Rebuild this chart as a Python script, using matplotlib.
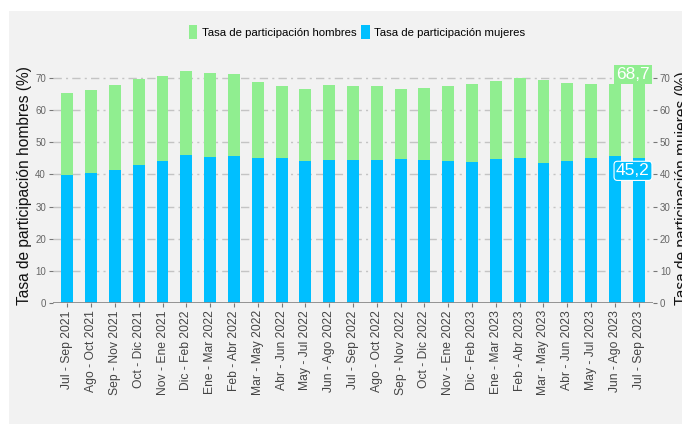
import matplotlib
matplotlib.use("Agg")
import matplotlib.pyplot as plt
from matplotlib.patches import Rectangle, Patch
from matplotlib import font_manager

periods = ["Jul - Sep 2021", "Ago - Oct 2021", "Sep - Nov 2021", "Oct - Dic 2021",
           "Nov - Ene 2021", "Dic - Feb 2022", "Ene - Mar 2022", "Feb - Abr 2022",
           "Mar - May 2022", "Abr - Jun 2022", "May - Jul 2022", "Jun - Ago 2022",
           "Jul - Sep 2022", "Ago - Oct 2022", "Sep - Nov 2022", "Oct - Dic 2022",
           "Nov - Ene 2022", "Dic - Feb 2023", "Ene - Mar 2023", "Feb - Abr 2023",
           "Mar - May 2023", "Abr - Jun 2023", "May - Jul 2023", "Jun - Ago 2023",
           "Jul - Sep 2023"]
men = [65.2, 66.2, 67.7, 69.6, 70.4, 72.0, 71.5, 71.2, 68.7, 67.3, 66.5, 67.7,
       67.5, 67.3, 66.5, 66.9, 67.4, 67.9, 68.9, 69.8, 69.3, 68.4, 68.0, 68.1, 68.7]
women = [39.8, 40.4, 41.4, 42.8, 44.3, 46.0, 45.5, 45.7, 45.2, 45.0, 44.3, 44.4,
         44.5, 44.4, 44.8, 44.5, 44.2, 43.8, 44.8, 45.2, 43.5, 44.3, 45.2, 45.7, 45.2]
men_name = "Tasa de participación hombres"
women_name = "Tasa de participación mujeres"
yticks = [0, 10, 20, 30, 40, 50, 60, 70]

GREEN = "#90EE90"
BLUE = "#00BFFF"

available = {f.name for f in font_manager.fontManager.ttflist}
base_font = "Liberation Sans" if "Liberation Sans" in available else "DejaVu Sans"
narrow_font = "Liberation Sans Narrow" if "Liberation Sans Narrow" in available else base_font
plt.rcParams["font.family"] = [base_font, "DejaVu Sans"]

W, H = 682, 424
fig = plt.figure(figsize=(W / 100, H / 100), dpi=100, facecolor="white")
fig.patches.append(Rectangle((9 / W, 0), 1 - 9 / W, 1 - 11 / H, transform=fig.transFigure,
                             facecolor="#f2f2f2", edgecolor="none", zorder=-10))

left, right = 53 / W, 653 / W
bottom = 1 - 303.3 / H
top = 1 - 61.6 / H
ax = fig.add_axes([left, bottom, right - left, top - bottom])
ax.set_facecolor("none")
x = list(range(len(periods)))
ax.bar(x, men, width=0.5, color=GREEN, zorder=2, label=men_name)
ax.bar(x, women, width=0.5, color=BLUE, zorder=3, label=women_name)
ax.set_xlim(-0.6, len(periods) - 1 + 0.6)
ax.set_ylim(0, 75)
ax.set_yticks(yticks)
for y in yticks[1:]:
    ax.axhline(y, color="#c4c4c4", lw=1.0, ls=(0, (6, 3, 1.5, 3)), zorder=1)
ax.axhline(0, color="#8a8a8a", lw=2.0, zorder=4)
for s in ax.spines.values():
    s.set_visible(False)
ax.set_xticks(x)
ax.set_xticklabels(periods, rotation=90, fontsize=8.7, color="#444444")
ax.tick_params(axis="x", length=3, width=0.8, color="#777777", pad=2)
ax.tick_params(axis="y", labelsize=7, labelcolor="#666666", length=3, width=0.8,
               color="#777777", pad=2)

ax2 = ax.twinx()
ax2.set_ylim(ax.get_ylim())
ax2.set_yticks(yticks)
ax2.tick_params(axis="y", labelsize=7, labelcolor="#666666", length=3, width=0.8,
                color="#777777", pad=2)
for s in ax2.spines.values():
    s.set_visible(False)

fig.text(25 / W, 1 - 186 / H, "Tasa de participación hombres (%)", rotation=90,
         ha="center", va="center", fontsize=11.2, color="#111111")
fig.text(682 / W, 1 - 188 / H, "Tasa de participación mujeres (%)", rotation=90,
         ha="center", va="center", fontsize=11.2, color="#111111")

def fmt(v):
    return f"{v:.1f}".replace(".", ",")

last = len(periods) - 1
ax.text(last - 0.24, men[-1] + 2.4, fmt(men[-1]), ha="center", va="center",
        fontsize=12.5, color="white", zorder=6, clip_on=False,
        bbox=dict(boxstyle="square,pad=0.12", facecolor=GREEN, edgecolor="none"))
ax.text(last - 0.24, women[-1] - 4.1, fmt(women[-1]), ha="center", va="center",
        fontsize=12.5, color="white", zorder=6, clip_on=False,
        bbox=dict(boxstyle="round,pad=0.12,rounding_size=0.2", facecolor=BLUE,
                  edgecolor="white", linewidth=0.8))

handles = [Patch(facecolor=GREEN, edgecolor="none", label=men_name),
           Patch(facecolor=BLUE, edgecolor="none", label=women_name)]
fig.legend(handles=handles, loc="center", bbox_to_anchor=(357 / W, 1 - 32 / H), ncol=2,
           frameon=False, prop={"family": narrow_font, "size": 10 if narrow_font != base_font else 8.2},
           handlelength=0.75, handleheight=1.4, handletextpad=0.4, columnspacing=0.4,
           borderpad=0)

fig.savefig("out.png", dpi=100, facecolor="white")
